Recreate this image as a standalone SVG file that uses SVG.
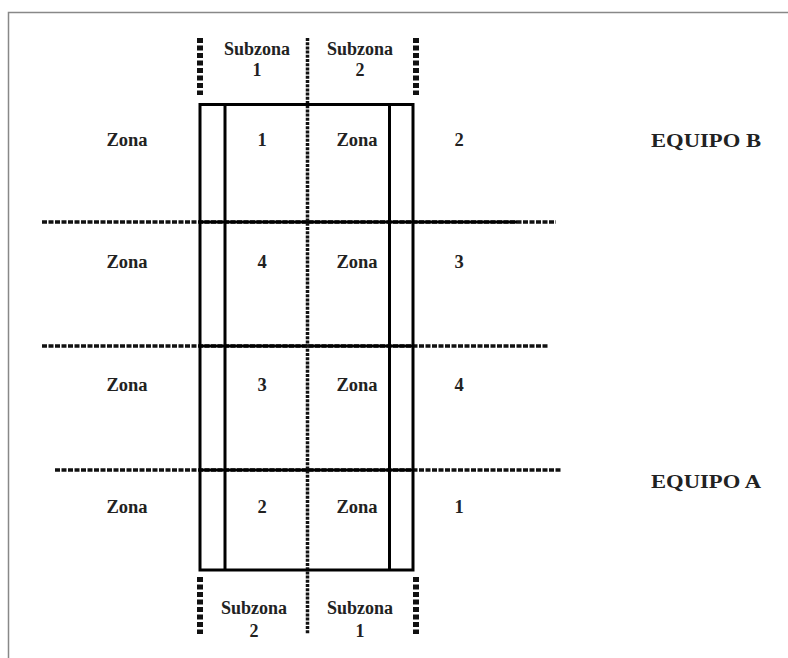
<svg xmlns="http://www.w3.org/2000/svg" width="788" height="658" viewBox="0 0 788 658">
<style>
.t{font-family:"Liberation Serif","Times New Roman",serif;font-weight:bold;font-size:18.5px;fill:#222;text-anchor:middle}
.s{font-family:"Liberation Serif","Times New Roman",serif;font-weight:bold;font-size:18px;fill:#222;text-anchor:middle}
.d{stroke:#111;stroke-width:3.5;stroke-dasharray:5 1.5;fill:none}
.v{stroke:#111;stroke-width:6;stroke-dasharray:5 2.5;fill:none}
.c{stroke:#111;stroke-width:3.5;stroke-dasharray:3 1.2;fill:none}
.solid{stroke:#000;stroke-width:3;fill:none}
</style>
<rect width="788" height="658" fill="#fff"/>
<path d="M8.5 658 V12.5 H788" stroke="#888" stroke-width="1.5" fill="none"/>
<g id="connectors">
<line class="d" x1="42" y1="222" x2="556" y2="222"/>
<line class="d" x1="42" y1="346" x2="549" y2="346"/>
<line class="d" x1="55" y1="470" x2="562" y2="470"/>
<line class="solid" x1="200" y1="222" x2="517" y2="222"/>
<line class="solid" x1="200" y1="346" x2="413" y2="346"/>
<line class="solid" x1="200" y1="470" x2="413" y2="470"/>
<line class="c" x1="307.5" y1="38" x2="307.5" y2="634"/>
<line class="v" x1="200" y1="38" x2="200" y2="95"/>
<line class="v" x1="416" y1="38" x2="416" y2="95"/>
<line class="v" x1="200" y1="577" x2="200" y2="634"/>
<line class="v" x1="416" y1="577" x2="416" y2="634"/>
</g>
<g id="court">
<rect x="200" y="104.5" width="213" height="465.5" class="solid"/>
<line class="solid" x1="225" y1="104.5" x2="225" y2="570"/>
<line class="solid" x1="389.5" y1="104.5" x2="389.5" y2="570"/>
</g>
<g id="subzonas-top">
<text class="s" x="257" y="55">Subzona</text>
<text class="s" x="257" y="76">1</text>
<text class="s" x="360" y="55">Subzona</text>
<text class="s" x="360" y="76">2</text>
</g>
<g id="subzonas-bottom">
<text class="s" x="254" y="614">Subzona</text>
<text class="s" x="254" y="637">2</text>
<text class="s" x="360" y="614">Subzona</text>
<text class="s" x="360" y="637">1</text>
</g>
<g id="row1">
<text class="t" x="127" y="146">Zona</text>
<text class="t" x="262" y="146">1</text>
<text class="t" x="357" y="146">Zona</text>
<text class="t" x="459" y="146">2</text>
</g>
<g id="row2">
<text class="t" x="127" y="268">Zona</text>
<text class="t" x="262" y="268">4</text>
<text class="t" x="357" y="268">Zona</text>
<text class="t" x="459" y="268">3</text>
</g>
<g id="row3">
<text class="t" x="127" y="391">Zona</text>
<text class="t" x="262" y="391">3</text>
<text class="t" x="357" y="391">Zona</text>
<text class="t" x="459" y="391">4</text>
</g>
<g id="row4">
<text class="t" x="127" y="513">Zona</text>
<text class="t" x="262" y="513">2</text>
<text class="t" x="357" y="513">Zona</text>
<text class="t" x="459" y="513">1</text>
</g>
<g id="equipo-b"><text class="t" x="706" y="147" textLength="110" lengthAdjust="spacingAndGlyphs">EQUIPO B</text></g>
<g id="equipo-a"><text class="t" x="706" y="488" textLength="110" lengthAdjust="spacingAndGlyphs">EQUIPO A</text></g>
</svg>
